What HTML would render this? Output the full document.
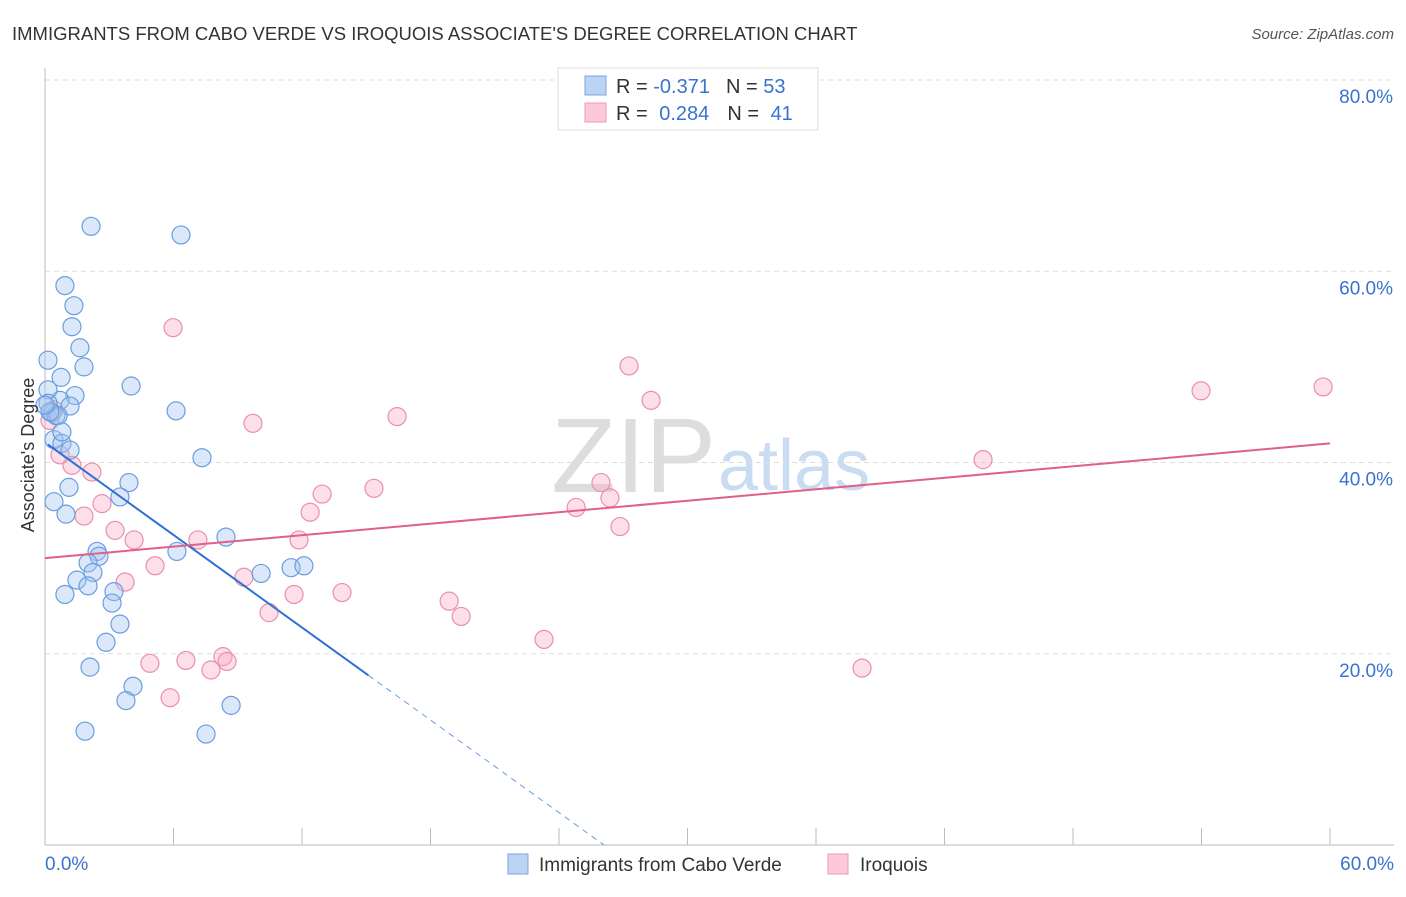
<!DOCTYPE html>
<html><head><meta charset="utf-8"><style>
body{margin:0;background:#fff;font-family:"Liberation Sans",sans-serif}
svg text{font-family:"Liberation Sans",sans-serif}
</style></head><body>
<svg id="c" width="1406" height="892">
<text x="12" y="40" font-size="18.5" fill="#333">IMMIGRANTS FROM CABO VERDE VS IROQUOIS ASSOCIATE'S DEGREE CORRELATION CHART</text>
<text x="1394" y="39" font-size="15" fill="#555" font-style="italic" text-anchor="end">Source: ZipAtlas.com</text>
<text x="716" y="492" font-size="106" fill="#ddd" text-anchor="end">ZIP</text>
<text x="718" y="490" font-size="72" fill="#c9dcf2">atlas</text>
<g id="grid"></g><g id="axes"></g><g id="marks"></g>
<text transform="translate(34,455) rotate(-90)" font-size="18" fill="#333" text-anchor="middle">Associate's Degree</text>
<g>
<rect x="558" y="68" width="260" height="62" fill="#fff" stroke="#ddd"/>
<rect x="585" y="76" width="21" height="19" fill="#bcd4f4" stroke="#7aa6e0"/>
<rect x="585" y="103" width="21" height="19" fill="#fcc9d8" stroke="#ef9ab4"/>
<text x="616" y="93" font-size="20" fill="#333">R = <tspan fill="#3a72d0">-0.371</tspan><tspan dx="16">N = </tspan><tspan fill="#3a72d0">53</tspan></text>
<text x="616" y="120" font-size="20" fill="#333">R = <tspan fill="#3a72d0" dx="6">0.284</tspan><tspan dx="18">N = </tspan><tspan fill="#3a72d0" dx="6">41</tspan></text>
</g>
<g>
<rect x="508" y="854" width="20" height="20" fill="#bcd4f4" stroke="#7aa6e0"/>
<text x="539" y="871" font-size="19" fill="#333">Immigrants from Cabo Verde</text>
<rect x="828" y="854" width="20" height="20" fill="#fcc9d8" stroke="#ef9ab4"/>
<text x="860" y="871" font-size="19" fill="#333">Iroquois</text>
</g>
</svg>
<script>
const blueX=[2.15,6.35,0.93,1.35,1.26,1.63,0.14,1.82,0.75,4.02,1.40,0.70,1.17,0.14,0.33,0.51,0.42,0.79,1.17,0.14,6.12,7.33,1.12,3.92,3.50,0.42,0.98,8.45,2.43,2.52,6.16,2.01,2.24,1.49,2.01,0.93,3.22,3.13,10.09,11.49,12.09,3.50,2.85,2.10,4.11,3.78,8.69,1.87,7.52,0.61,0.23,0.79,0];
const blueY=[64.7,63.8,58.5,56.4,54.2,52.0,50.7,50.0,48.9,48.0,47.0,46.5,45.9,47.6,45.2,44.9,42.4,42.0,41.3,46.2,45.4,40.5,37.4,37.9,36.4,35.9,34.6,32.2,30.7,30.2,30.7,29.5,28.5,27.7,27.1,26.2,26.5,25.3,28.4,29.0,29.2,23.1,21.2,18.6,16.6,15.1,14.6,11.9,11.6,44.9,45.3,43.2,46.0];
const pinkX=[5.98,27.27,28.30,9.71,16.44,53.98,59.68,43.80,1.26,2.19,0.70,2.66,1.82,3.27,4.16,12.94,15.36,12.38,25.96,26.38,24.80,26.85,7.14,11.86,5.14,3.74,9.29,11.63,13.87,10.46,18.87,19.43,23.30,4.90,6.58,8.31,8.50,7.75,5.84,38.15,0.42,0.23];
const pinkY=[54.1,50.1,46.5,44.1,44.8,47.5,47.9,40.3,39.7,39.0,40.8,35.7,34.4,32.9,31.9,36.7,37.3,34.8,37.9,36.3,35.3,33.3,31.9,31.9,29.2,27.5,28.0,26.2,26.4,24.3,25.5,23.9,21.5,19.0,19.3,19.7,19.2,18.3,15.4,18.5,45.5,44.4];
const blueFit=[42.1,-1.613]; // intercept, slope
const pinkFit=[30.0,0.2];
const yTicks=[20,40,60,80];
const yTickLabels=["20.0%","40.0%","60.0%","80.0%"];
const xTicks=[0,6,12,18,24,30,36,42,48,54,60];
const NS="http://www.w3.org/2000/svg";
const X0=45,X1=1330,Y0=845,Y1=80;
const sx=v=>X0+(v/60)*(X1-X0);
const sy=v=>Y0-(v/80)*(Y0-Y1);
function mk(tag,at,parent){const e=document.createElementNS(NS,tag);for(const k in at)e.setAttribute(k,at[k]);document.getElementById(parent).appendChild(e);return e;}
yTicks.forEach((t,i)=>{
 const g=mk('line',{x1:X0,x2:1394,y1:sy(t),y2:sy(t),stroke:'#ddd','stroke-dasharray':'5,4'},'grid');
 
 
 const l=mk('text',{x:1393,y:sy(t)+23,'font-size':19,fill:'#3a72d0','text-anchor':'end'},'grid');
 l.textContent=yTickLabels[i];
 
 
});
const ax=mk('line',{x1:X0,x2:1394,y1:Y0,y2:Y0,stroke:'#bbb'},'axes');


const ay=mk('line',{x1:X0,x2:X0,y1:68,y2:Y0,stroke:'#bbb'},'axes');


xTicks.forEach(t=>{
 const tk=mk('line',{x1:sx(t),x2:sx(t),y1:Y0,y2:Y0-17,stroke:'#bbb'},'axes');
 
 
});
const xl0=mk('text',{x:45,y:870,'font-size':19,fill:'#3a72d0'},'axes');xl0.textContent='0.0%';


const xl1=mk('text',{x:1394,y:870,'font-size':19,fill:'#3a72d0','text-anchor':'end'},'axes');xl1.textContent='60.0%';


pinkX.forEach((v,i)=>{
 const c=mk('circle',{cx:sx(v),cy:sy(pinkY[i]),r:9,fill:'rgba(246,170,196,0.38)',stroke:'#eb8fab','stroke-width':1.2},'marks');
 
 
});
blueX.forEach((v,i)=>{
 const c=mk('circle',{cx:sx(v),cy:sy(blueY[i]),r:9,fill:'rgba(160,195,240,0.38)',stroke:'#6a9de0','stroke-width':1.2},'marks');
 
 
});
const bEnd=15.1,bZero=-blueFit[0]/blueFit[1];
const bl=mk('line',{x1:sx(0.14),y1:sy(blueFit[0]+blueFit[1]*0.14),x2:sx(bEnd),y2:sy(blueFit[0]+blueFit[1]*bEnd),stroke:'#2f6fd6','stroke-width':2},'marks');


const bd=mk('line',{x1:sx(bEnd),y1:sy(blueFit[0]+blueFit[1]*bEnd),x2:sx(bZero),y2:sy(0),stroke:'#6a9de0','stroke-width':1,'stroke-dasharray':'6,5'},'marks');


const pl=mk('line',{x1:sx(0),y1:sy(pinkFit[0]),x2:sx(60),y2:sy(pinkFit[0]+pinkFit[1]*60),stroke:'#e0608a','stroke-width':2},'marks');


</script>
</body></html>
